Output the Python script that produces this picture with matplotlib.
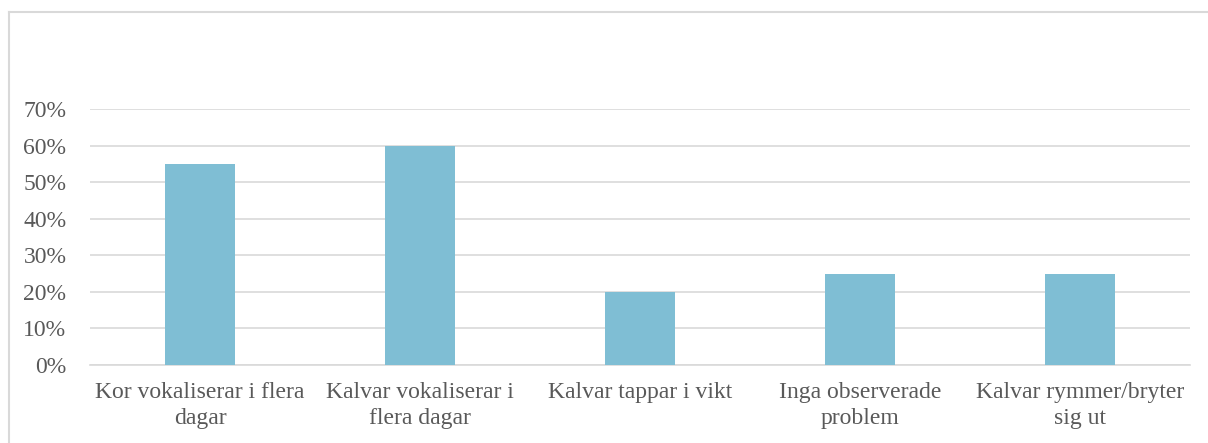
import numpy as np
import matplotlib.pyplot as plt
from matplotlib.lines import Line2D

categories = ["Kor vokaliserar i flera\ndagar", "Kalvar vokaliserar i\nflera dagar",
              "Kalvar tappar i vikt", "Inga observerade\nproblem", "Kalvar rymmer/bryter\nsig ut"]
values = [0.55, 0.60, 0.20, 0.25, 0.25]
yticks = [0, 0.1, 0.2, 0.3, 0.4, 0.5, 0.6, 0.7]

plt.rcParams['font.family'] = ['Liberation Serif', 'DejaVu Serif']
text_color = "#595959"
grid_color = "#D9D9D9"

W, H = 1208, 443
fig = plt.figure(figsize=(W / 100, H / 100), dpi=100)
ax = fig.add_axes([90 / W, 78 / H, 1100 / W, 256 / H])

x = np.arange(len(categories))
ax.bar(x, values, width=0.315, color="#7FBED4", zorder=3)

ax.set_xlim(-0.5, len(categories) - 0.5)
ax.set_ylim(0, 0.7)
ax.set_yticks(yticks)
ax.set_yticklabels([f"{int(round(v * 100))}%" for v in yticks])
ax.set_xticks(x)
ax.set_xticklabels(categories, linespacing=1.32)
ax.tick_params(axis="both", length=0, colors=text_color, labelsize=17)
ax.tick_params(axis="y", pad=17)
ax.tick_params(axis="x", pad=12)
ax.yaxis.grid(True, color=grid_color, linewidth=1.2, zorder=0)
for s in ["top", "right", "left"]:
    ax.spines[s].set_visible(False)
ax.spines["bottom"].set_color(grid_color)
ax.spines["bottom"].set_linewidth(1.2)

# chart border (top and left visible)
fig.add_artist(Line2D([9 / W, 9 / W], [0, 1 - 12 / H], color=grid_color, linewidth=1.5))
fig.add_artist(Line2D([9 / W, 1], [1 - 12 / H, 1 - 12 / H], color=grid_color, linewidth=1.5))

fig.savefig("out.png", dpi=100)
